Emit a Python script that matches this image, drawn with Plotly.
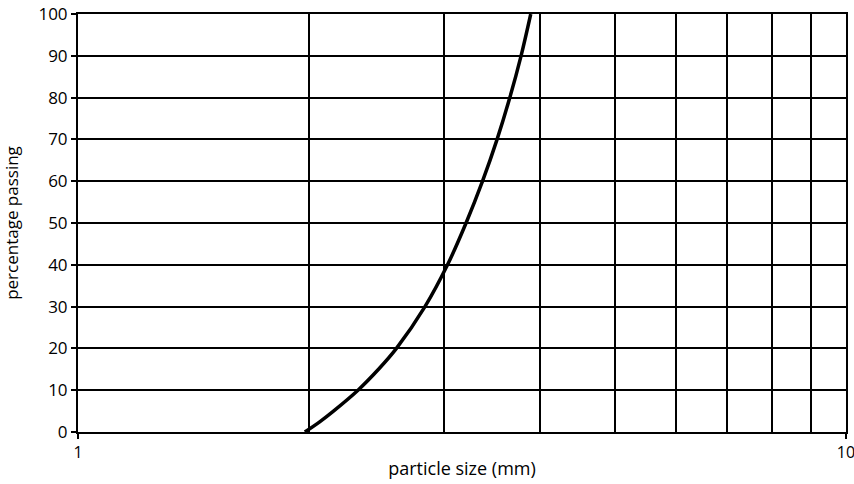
import plotly.graph_objects as go

# sieve curve
size_mm = [1.974, 2.066, 2.151, 2.315, 2.462, 2.598, 2.830, 3.028, 3.201, 3.363, 3.513, 3.650, 3.775, 3.886]
passing = [0, 2.5, 5, 10, 15, 20, 30, 40, 50, 60, 70, 80, 90, 100]

x_major = [1, 10]
x_minor = [2, 3, 4, 5, 6, 7, 8, 9]
y_ticks = list(range(0, 101, 10))

font = "Open Sans, Liberation Sans, sans-serif"

fig = go.Figure()

fig.add_trace(
    go.Scatter(
        x=size_mm,
        y=passing,
        mode='lines',
        line=dict(color='black', width=3.5, shape='spline', smoothing=1),
        showlegend=False,
        hoverinfo='skip'
    )
)

fig.update_xaxes(
    type='log',
    range=[0, 1],
    tickvals=x_major,
    ticktext=['1', '10'],
    ticks='outside',
    ticklen=5,
    tickwidth=1.5,
    tickcolor='black',
    ticklabeloverflow='allow',
    showline=True,
    linecolor='black',
    linewidth=2,
    showgrid=True,
    gridcolor='black',
    gridwidth=1.5,
    minor=dict(tickvals=x_minor, showgrid=True, gridcolor='black', gridwidth=1.5, ticks=''),
    zeroline=False,
    automargin=False,
    title=dict(text='particle size (mm)', font=dict(size=18, color='black', family=font), standoff=0),
    tickfont=dict(size=16, color='black', family=font),
    mirror=True
)

fig.update_yaxes(
    range=[0, 100],
    tickvals=y_ticks,
    ticks='outside',
    ticklen=5,
    tickwidth=1.5,
    tickcolor='black',
    ticksuffix='\u00a0',
    ticklabeloverflow='allow',
    showline=True,
    linecolor='black',
    linewidth=2,
    showgrid=True,
    gridcolor='black',
    gridwidth=1.5,
    zeroline=False,
    automargin=False,
    title=dict(text='percentage passing', font=dict(size=17, color='black', family=font), standoff=20),
    tickfont=dict(size=17, color='black', family=font),
    mirror=True
)

fig.update_layout(
    width=854,
    height=484,
    margin=dict(l=78, r=8, t=14, b=52),
    plot_bgcolor='white',
    paper_bgcolor='white',
    font=dict(family=font, color='black')
)

# drop the default 8px body margin so the figure fills the window
fig.write_html(
    "out.html",
    config={'displayModeBar': False},
    post_script="document.body.style.margin='0';"
)
